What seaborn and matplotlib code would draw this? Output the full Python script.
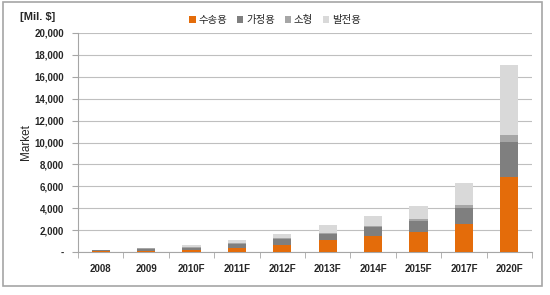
import matplotlib
matplotlib.use("Agg")
import matplotlib.pyplot as plt
import seaborn as sns
import numpy as np
import pandas as pd
from matplotlib.patches import Rectangle, Patch
from matplotlib.ticker import FixedLocator

years = ["2008", "2009", "2010F", "2011F", "2012F", "2013F", "2014F", "2015F", "2017F", "2020F"]
series_names = ["수송용", "가정용", "소형", "발전용"]
transport = [60, 90, 160, 365, 640, 1070, 1460, 1830, 2530, 6850]
household = [120, 210, 230, 395, 580, 600, 820, 1030, 1520, 3180]
small = [20, 20, 90, 90, 80, 90, 70, 150, 240, 610]
power = [10, 30, 130, 250, 340, 680, 940, 1190, 2010, 6450]
yticks = [0, 2000, 4000, 6000, 8000, 10000, 12000, 14000, 16000, 18000, 20000]
ytick_labels = ["-", "2,000", "4,000", "6,000", "8,000", "10,000", "12,000", "14,000", "16,000", "18,000", "20,000"]

colors = ["#E46C0A", "#7F7F7F", "#A6A6A6", "#D9D9D9"]

sns.set_style("white")
plt.rcParams['font.family'] = ['Liberation Sans', 'DejaVu Sans']

fig = plt.figure(figsize=(5.5, 2.95), dpi=100)
ax = fig.add_axes([78/550, 1 - 252/295, (532 - 78)/550, (252 - 33)/295])

stack = np.cumsum(np.array([transport, household, small, power]), axis=0)
for i in range(3, -1, -1):
    df = pd.DataFrame({"year": years, "value": stack[i]})
    sns.barplot(data=df, x="year", y="value", color=colors[i], width=0.40,
                saturation=1, ax=ax, zorder=3, linewidth=0)

ax.set_xlim(-0.5, len(years) - 0.5)
ax.set_ylim(0, 20000)
ax.set_yticks(yticks)
ax.set_yticklabels(ytick_labels, fontsize=7, fontweight="bold")
ax.set_xticks(range(len(years)))
ax.set_xticklabels(years, fontsize=7, fontweight="bold")
ax.xaxis.set_minor_locator(FixedLocator(np.arange(-0.5, len(years), 1)))
ax.tick_params(axis="x", which="major", length=0, pad=9)
ax.tick_params(axis="x", which="minor", length=4, color="#A6A6A6", direction="out", bottom=True)
ax.tick_params(axis="y", length=4, color="#A6A6A6", direction="out", left=True, pad=6)
ax.grid(axis="y", color="#BFBFBF", linewidth=0.8, zorder=0)
ax.set_axisbelow(True)
for s in ["top", "right"]:
    ax.spines[s].set_visible(False)
for s in ["left", "bottom"]:
    ax.spines[s].set_color("#A6A6A6")
    ax.spines[s].set_linewidth(0.8)
ax.set_xlabel("")
ax.set_ylabel("Market", fontsize=8.5, labelpad=2)

fig.text(20/550, 1 - 17/295, "[Mil. $]", fontsize=8, fontweight="bold", va="center", ha="left")

handles = [Patch(facecolor=c, edgecolor="none") for c in colors]
fig.legend(handles, series_names, loc="center", bbox_to_anchor=(275/550, 1 - 20/295), ncol=4,
           frameon=False, prop={"family": ["Noto Sans CJK KR", "DejaVu Sans"], "size": 7.5},
           handlelength=0.6, handleheight=0.6, handletextpad=0.3, columnspacing=0.9)

fig.patches.append(Rectangle((3/550, 1 - 286/295), (542 - 3)/550, (286 - 2)/295,
                             transform=fig.transFigure, fill=False, edgecolor="#A6A6A6", linewidth=1.2))

fig.savefig("out.png", dpi=100)
